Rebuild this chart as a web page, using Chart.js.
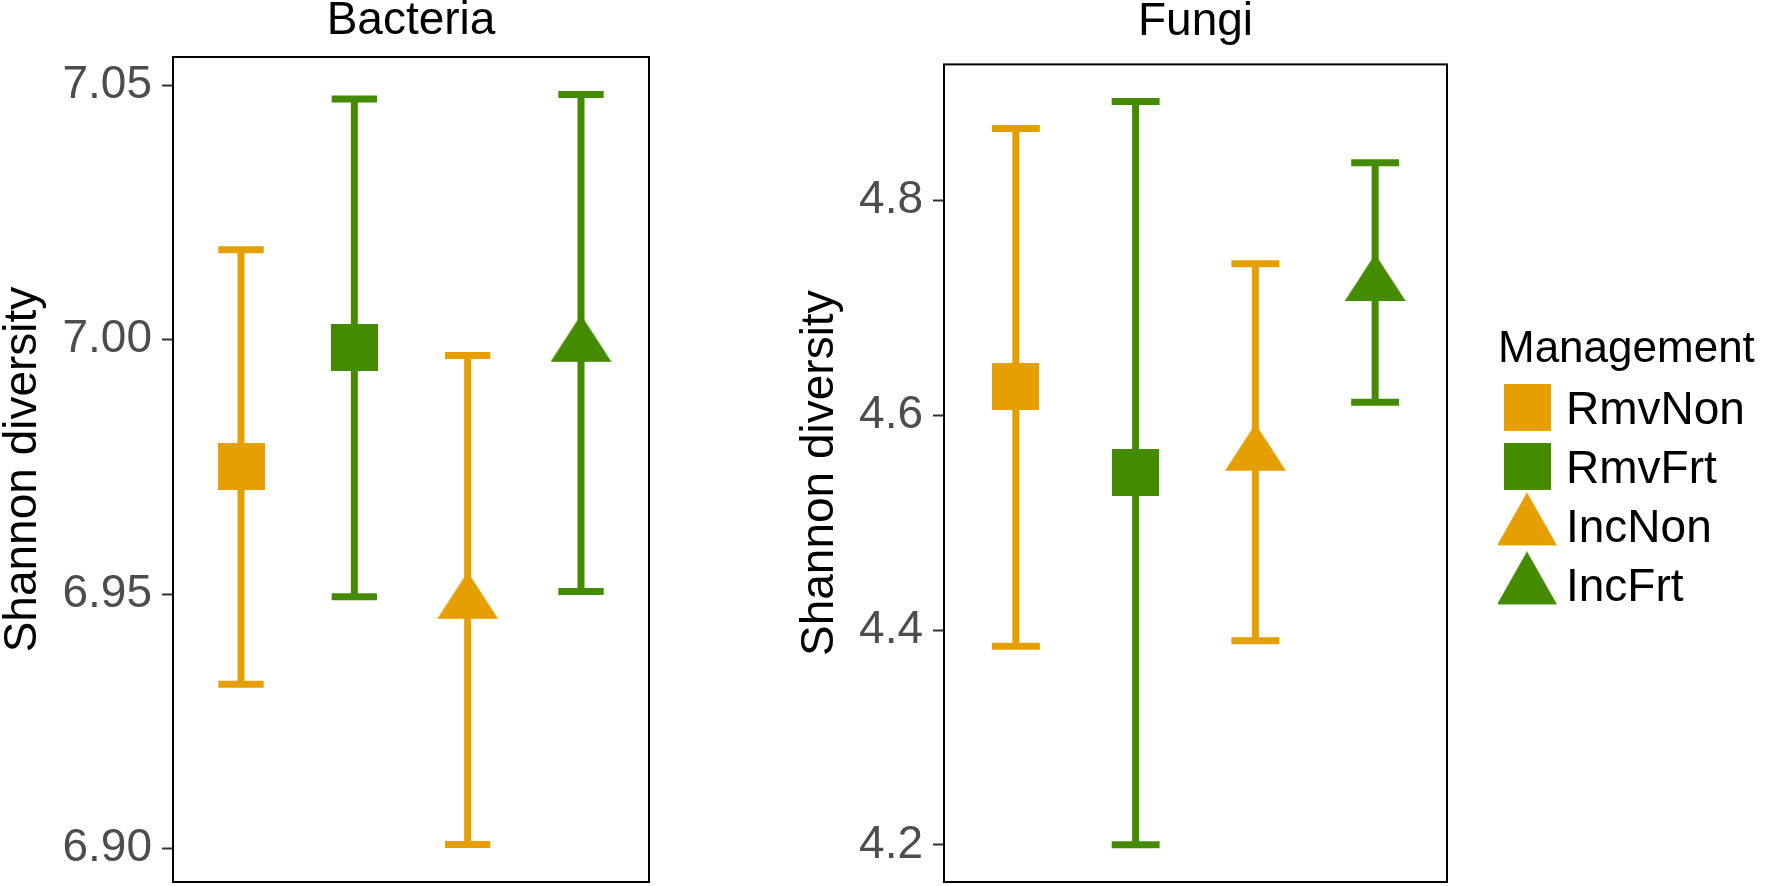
<!DOCTYPE html>
<html>
<head>
<meta charset="utf-8">
<title>Shannon diversity by management</title>
<script src="https://cdn.jsdelivr.net/npm/chart.js@4.4.1/dist/chart.umd.min.js"></script>
<style>
  html, body { margin: 0; padding: 0; background: #ffffff; overflow: hidden; }
  #wrap { position: relative; width: 1771px; height: 886px; }
  .panel { position: absolute; top: 0; }
  #bacteriaBox { left: 0; }
  #fungiBox { left: 797px; }
</style>
</head>
<body>
<div id="wrap">
  <div class="panel" id="bacteriaBox"><canvas id="bacteria" width="660" height="886"></canvas></div>
  <div class="panel" id="fungiBox"><canvas id="fungi" width="974" height="886"></canvas></div>
</div>
<script>
// Management groups, in legend order
const categories = ['RmvNon', 'RmvFrt', 'IncNon', 'IncFrt'];
const groupColors = ['#E69F00', '#458B00', '#E69F00', '#458B00'];
const groupShapes = ['square', 'square', 'triangle', 'triangle'];

// Bacteria: mean Shannon diversity with interval bounds
const bacteriaMean  = [6.9750, 6.9985, 6.9489, 6.9994];
const bacteriaLower = [6.9323, 6.9495, 6.9008, 6.9505];
const bacteriaUpper = [7.0177, 7.0473, 6.9969, 7.0482];

// Fungi: mean Shannon diversity with interval bounds
const fungiMean  = [4.627, 4.547, 4.566, 4.724];
const fungiLower = [4.385, 4.200, 4.390, 4.612];
const fungiUpper = [4.867, 4.892, 4.741, 4.835];

// Axis ticks
const bacteriaTicks = [6.90, 6.95, 7.00, 7.05];
const bacteriaTickLabels = ['6.90', '6.95', '7.00', '7.05'];
const fungiTicks = [4.2, 4.4, 4.6, 4.8];
const fungiTickLabels = ['4.2', '4.4', '4.6', '4.8'];

const FONT = "'Liberation Sans', Arial, Helvetica, sans-serif";
const TEXT_SIZE = 46;
Chart.defaults.font.family = FONT;
Chart.defaults.color = '#000000';

// Filled marker glyphs (square / upward triangle) used as point styles
function makeMarker(shape, color, w, h, canvasH) {
  const c = document.createElement('canvas');
  c.width = w;
  c.height = canvasH;
  const g = c.getContext('2d');
  g.fillStyle = color;
  if (shape === 'square') {
    g.fillRect(0, 0, w, h);
  } else {
    g.beginPath();
    g.moveTo(w / 2, 0);
    g.lineTo(w, h);
    g.lineTo(0, h);
    g.closePath();
    g.fill();
  }
  return c;
}
const plotMarkers = categories.map((_, i) =>
  groupShapes[i] === 'square'
    ? makeMarker('square', groupColors[i], 47, 47, 47)
    : makeMarker('triangle', groupColors[i], 61, 47, 56));
const legendMarkers = categories.map((_, i) =>
  groupShapes[i] === 'square'
    ? makeMarker('square', groupColors[i], 47, 47, 55)
    : makeMarker('triangle', groupColors[i], 60, 53, 74));

// Black frame around the plotting panel
const panelBorder = {
  id: 'panelBorder',
  afterDatasetsDraw(chart) {
    const { ctx, chartArea: a } = chart;
    ctx.save();
    ctx.strokeStyle = '#000000';
    ctx.lineWidth = 2;
    ctx.strokeRect(a.left, a.top, a.right - a.left, a.bottom - a.top);
    ctx.restore();
  }
};

// Error bar cap half-width: 0.2 category units
function capRadius(ctx) {
  const s = ctx.chart.scales.x;
  return Math.abs(s.getPixelForValue(1.2) - s.getPixelForValue(1));
}

function buildDatasets(mean, lower, upper) {
  const points = categories.map((name, i) => ({
    label: name,
    data: [{ x: i + 1, y: mean[i] }],
    showLine: false,
    pointStyle: plotMarkers[i],
    pointRadius: 24,
    backgroundColor: groupColors[i],
    borderColor: groupColors[i]
  }));
  const intervals = categories.map((name, i) => ({
    label: name + ' interval',
    isInterval: true,
    data: [{ x: i + 1, y: lower[i] }, { x: i + 1, y: upper[i] }],
    showLine: true,
    borderColor: groupColors[i],
    backgroundColor: groupColors[i],
    borderWidth: 7,
    pointStyle: 'line',
    pointRadius: capRadius,
    pointBorderWidth: 7,
    pointBorderColor: groupColors[i],
    pointBackgroundColor: groupColors[i]
  }));
  return points.concat(intervals);
}

function yScale(ticks, labels, lower, upper, axisWidth) {
  const lo = Math.min(...lower);
  const hi = Math.max(...upper);
  const pad = (hi - lo) * 0.05;
  return {
    type: 'linear',
    position: 'left',
    min: lo - pad,
    max: hi + pad,
    afterBuildTicks: s => { s.ticks = ticks.map(v => ({ value: v })); },
    afterFit: s => { s.width = axisWidth; s.paddingTop = 0; s.paddingBottom = 0; },
    ticks: {
      callback: (v, i) => labels[i],
      color: '#4D4D4D',
      font: { size: TEXT_SIZE },
      padding: 10
    },
    grid: { drawOnChartArea: false, tickLength: 11, tickWidth: 2, tickColor: '#333333' },
    border: { display: false },
    title: {
      display: true,
      text: 'Shannon diversity',
      color: '#000000',
      font: { size: TEXT_SIZE, lineHeight: 1 },
      padding: { top: 0, bottom: 0 }
    }
  };
}

const xScale = { type: 'linear', min: 0.4, max: 4.6, display: false };

// Bacteria panel
new Chart(document.getElementById('bacteria'), {
  type: 'scatter',
  data: { datasets: buildDatasets(bacteriaMean, bacteriaLower, bacteriaUpper) },
  options: {
    responsive: false,
    animation: false,
    events: [],
    layout: { autoPadding: false, padding: { left: 0, right: 11, top: 0, bottom: 4 } },
    scales: {
      x: xScale,
      y: yScale(bacteriaTicks, bacteriaTickLabels, bacteriaLower, bacteriaUpper, 173)
    },
    plugins: {
      legend: { display: false },
      tooltip: { enabled: false },
      title: {
        display: true,
        text: 'Bacteria',
        fullSize: false,
        color: '#000000',
        font: { size: TEXT_SIZE, weight: 'normal', lineHeight: 0.9 },
        padding: { top: 1, bottom: 14.6 }
      }
    }
  },
  plugins: [panelBorder]
});

// Legend width, so the fungi panel keeps its place beside the legend
const measure = document.createElement('canvas').getContext('2d');
measure.font = 'normal ' + TEXT_SIZE + 'px ' + FONT;
const widestLabel = Math.max(...categories.map(t => measure.measureText(t).width));
const LEGEND_PAD = 13, LEGEND_BOX = 32;
const legendWidth = LEGEND_PAD + LEGEND_BOX + TEXT_SIZE / 2 + widestLabel + 10;
const fungiRightPad = Math.max(0, 974 - 650 - 51 - legendWidth);

// Fungi panel with the shared legend
new Chart(document.getElementById('fungi'), {
  type: 'scatter',
  data: { datasets: buildDatasets(fungiMean, fungiLower, fungiUpper) },
  options: {
    responsive: false,
    animation: false,
    events: [],
    layout: { autoPadding: false, padding: { left: 0, right: fungiRightPad, top: 0, bottom: 4 } },
    scales: {
      x: xScale,
      y: yScale(fungiTicks, fungiTickLabels, fungiLower, fungiUpper, 147),
      gap: {
        type: 'linear',
        position: 'right',
        display: true,
        ticks: { display: false },
        grid: { display: false, drawTicks: false },
        border: { display: false },
        afterFit: s => { s.width = 51; s.paddingTop = 0; s.paddingBottom = 0; }
      }
    },
    plugins: {
      tooltip: { enabled: false },
      title: {
        display: true,
        text: 'Fungi',
        fullSize: false,
        color: '#000000',
        font: { size: TEXT_SIZE, weight: 'normal', lineHeight: 0.9 },
        padding: { top: 2, bottom: 21 }
      },
      legend: {
        display: true,
        position: 'right',
        align: 'start',
        fullSize: false,
        maxWidth: 600,
        title: {
          display: true,
          text: 'Management',
          color: '#000000',
          position: 'start',
          font: { size: 44, lineHeight: 1 },
          padding: { top: 263, bottom: 4 }
        },
        labels: {
          usePointStyle: true,
          pointStyleWidth: LEGEND_BOX,
          padding: LEGEND_PAD,
          color: '#000000',
          font: { size: TEXT_SIZE },
          generateLabels: chart =>
            Chart.defaults.plugins.legend.labels.generateLabels(chart)
              .filter(item => !chart.data.datasets[item.datasetIndex].isInterval)
              .map(item => Object.assign(item, { pointStyle: legendMarkers[item.datasetIndex] }))
        }
      }
    }
  },
  plugins: [panelBorder]
});
</script>
</body>
</html>
